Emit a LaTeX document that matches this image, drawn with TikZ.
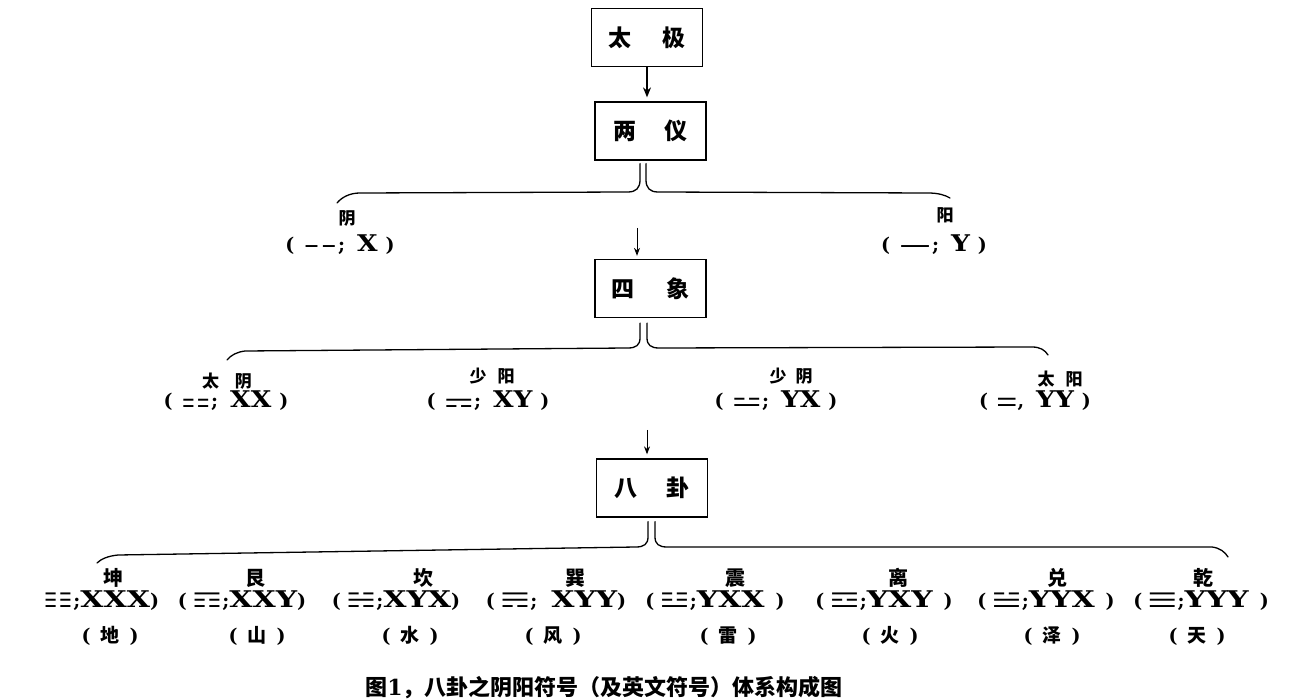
\documentclass[tikz,border=0pt]{standalone}
\usepackage{fontspec}
\usetikzlibrary{arrows.meta}
\newfontfamily\zhf{Noto Sans CJK SC}
\newfontfamily\dvs{DejaVu Sans}
\newfontfamily\dvsf{DejaVu Serif}
\newcommand{\zh}[2]{{\fontsize{#1}{#1}\zhf\bfseries #2}}
\newcommand{\lt}[2]{\scalebox{#1}[1]{\fontsize{23}{23}\dvsf\bfseries #2}}
\newcommand{\sy}[2]{{\fontsize{#1}{#1}\dvs #2}}
\newcommand{\semi}[1]{{\fontsize{19}{19}\dvsf\bfseries #1}}
\newcommand{\lpar}{{\fontsize{19}{19}\dvsf\bfseries (}}
\newcommand{\rpar}{{\fontsize{19}{19}\dvsf\bfseries )}}
\newcommand{\tri}[1]{\scalebox{1.7}[1]{\sy{20}{#1}}}
\newcommand{\gl}[1]{\lt{1.3}{#1}}
% level-2/3 string: raise, xscale, symbol, separator, letters
\newcommand{\xiang}[5]{\lpar\hspace{8pt}\raisebox{#1}{\scalebox{#2}[1]{\sy{20}{#3}}}\semi{#4}\hspace{12pt}\lt{1.15}{#5}\hspace{8pt}\rpar}
\newcommand{\sub}[1]{\lpar\hspace{10pt}\zh{19}{#1}\hspace{10pt}\rpar}
\begin{document}
\begin{tikzpicture}[x=1pt,y=-1pt,
  bx/.style={draw, line width=1.3pt, minimum width=111pt, minimum height=58pt, inner sep=0pt},
  brc/.style={line width=1.3pt, line cap=round},
  arr/.style={-{Stealth[length=10pt,width=8pt]}, line width=1.2pt},
  arrs/.style={-{Stealth[length=8pt,width=6pt]}, line width=1pt},
  lbl/.style={inner sep=0pt},
  bl/.style={anchor=base, inner sep=0pt}]
\fill[white] (0,0) rectangle (1304,700);
\useasboundingbox (0,0) rectangle (1304,700);

% boxes
\node[bx] (b1) at (647,37.5) {\zh{23}{太\hspace{32pt}极}};
\node[bx] (b2) at (650.5,131) {\zh{23}{两\hspace{29pt}仪}};
\node[bx] (b3) at (650.5,288.5) {\zh{23}{四\hspace{32pt}象}};
\node[bx] (b4) at (652,488) {\zh{23}{八\hspace{30pt}卦}};

% arrows
\draw[arr, shorten >=4pt] (b1.south) -- (b1.south |- b2.north);
\coordinate (a2) at (637,228);
\draw[arrs, shorten >=3pt] (a2) -- (a2 |- b3.north);
\coordinate (a3) at (647,430);
\draw[arrs, shorten >=4pt] (a3) -- (a3 |- b4.north);

% brace under b2
\draw[brc] ([xshift=-10.5pt,yshift=-3pt]b2.south) -- (640,180) .. controls (640,188) and (636,192) .. (628,192) -- (360,193) .. controls (350,193) and (342,197) .. (337,203);
\draw[brc] ([xshift=-4.5pt,yshift=-3pt]b2.south) -- (646,180) .. controls (646,188) and (650,192) .. (658,192) -- (928,193) .. controls (938,193) and (945,195) .. (950,198);
% brace under b3
\draw[brc] ([xshift=-10.5pt,yshift=-5pt]b3.south) -- (640,338) .. controls (640,345) and (636,348) .. (628,348) -- (245,351) .. controls (237,352) and (231,355) .. (227,360);
\draw[brc] ([xshift=-3.5pt,yshift=-5pt]b3.south) -- (647,338) .. controls (647,345) and (651,348) .. (659,348) -- (1032,347) .. controls (1040,347) and (1045,350) .. (1048,355);
% brace under b4
\draw[brc] ([xshift=-4pt,yshift=-4pt]b4.south) -- (648,537) .. controls (648,544) and (644,547) .. (636,547) -- (118,555) .. controls (108,556) and (101,559) .. (97,563);
\draw[brc] ([xshift=3pt,yshift=-4pt]b4.south) -- (655,537) .. controls (655,544) and (659,547) .. (667,547) -- (1212,547) .. controls (1220,548) and (1225,552) .. (1228,557);

% level 2
\node[lbl] (yin) at (347,218) {\zh{17}{阴}};
\node[lbl] (yang) at (945,215) {\zh{17}{阳}};
\node[bl] (yins) at (340,252) {\xiang{4pt}{2.0}{⚋}{;}{X}};
\node[bl] (yangs) at (934,252) {\xiang{4pt}{1.9}{⚊}{;}{Y}};

% level 3
\node[lbl] (n1) at (227,381) {\zh{17}{太\hspace{16pt}阴}};
\node[lbl] (n2) at (492,376) {\zh{17}{少\hspace{11pt}阳}};
\node[lbl] (n3) at (791,376) {\zh{17}{少\hspace{9pt}阴}};
\node[lbl] (n4) at (1060,379) {\zh{17}{太\hspace{11pt}阳}};
\node[bl] (s1) at (226,408) {\xiang{1pt}{1.7}{⚏}{;}{XX}};
\node[bl] (s2) at (488,408) {\xiang{1pt}{1.7}{⚎}{;}{XY}};
\node[bl] (s3) at (776,407) {\xiang{1pt}{1.7}{⚍}{;}{YX}};
\node[bl] (s4) at (1035,407) {\xiang{1pt}{1.2}{⚌}{,}{YY}};

% level 4 names
\node[lbl] (g1) at (113,578) {\zh{20}{坤}};
\node[lbl] (g2) at (255,578) {\zh{20}{艮}};
\node[lbl] (g3) at (423,578) {\zh{20}{坎}};
\node[lbl] (g4) at (575,578) {\zh{20}{巽}};
\node[lbl] (g5) at (735,578) {\zh{20}{震}};
\node[lbl] (g6) at (898,578) {\zh{20}{离}};
\node[lbl] (g7) at (1057,578) {\zh{20}{兑}};
\node[lbl] (g8) at (1203,578) {\zh{20}{乾}};
% level 4 strings
\node[bl] (t1) at (101,607) {\tri{☷}\semi{;}\gl{XXX}\rpar};
\node[bl] (t2) at (242,607) {\lpar\hspace{5pt}\tri{☶}\semi{;}\gl{XXY}\rpar};
\node[bl] (t3) at (396,607) {\lpar\hspace{5pt}\tri{☵}\semi{;}\gl{XYX}\rpar};
\node[bl] (t4) at (556,607) {\lpar\hspace{5pt}\tri{☴}\semi{;}\hspace{14pt}\gl{XYY}\rpar};
\node[bl] (t5) at (715,607) {\lpar\hspace{5pt}\tri{☳}\semi{;}\gl{YXX}\hspace{11pt}\rpar};
\node[bl] (t6) at (884,607) {\lpar\hspace{5pt}\tri{☲}\semi{;}\gl{YXY}\hspace{11pt}\rpar};
\node[bl] (t7) at (1046,607) {\lpar\hspace{5pt}\tri{☱}\semi{;}\gl{YYX}\hspace{11pt}\rpar};
\node[bl] (t8) at (1201,607) {\lpar\hspace{5pt}\tri{☰}\semi{;}\gl{YYY}\hspace{11pt}\rpar};
% level 4 subs
\node[lbl] (u1) at (110,636) {\sub{地}};
\node[lbl] (u2) at (257,636) {\sub{山}};
\node[lbl] (u3) at (410,636) {\sub{水}};
\node[lbl] (u4) at (553,636) {\sub{风}};
\node[lbl] (u5) at (728,636) {\sub{雷}};
\node[lbl] (u6) at (890,636) {\sub{火}};
\node[lbl] (u7) at (1052,636) {\sub{泽}};
\node[lbl] (u8) at (1197,636) {\sub{天}};

% caption
\node[lbl] (cap) at (604,688) {\zh{22}{图{\fontsize{22}{22}\dvsf\bfseries 1}，八卦之阴阳符号（及英文符号）体系构成图}};
\end{tikzpicture}
\end{document}
